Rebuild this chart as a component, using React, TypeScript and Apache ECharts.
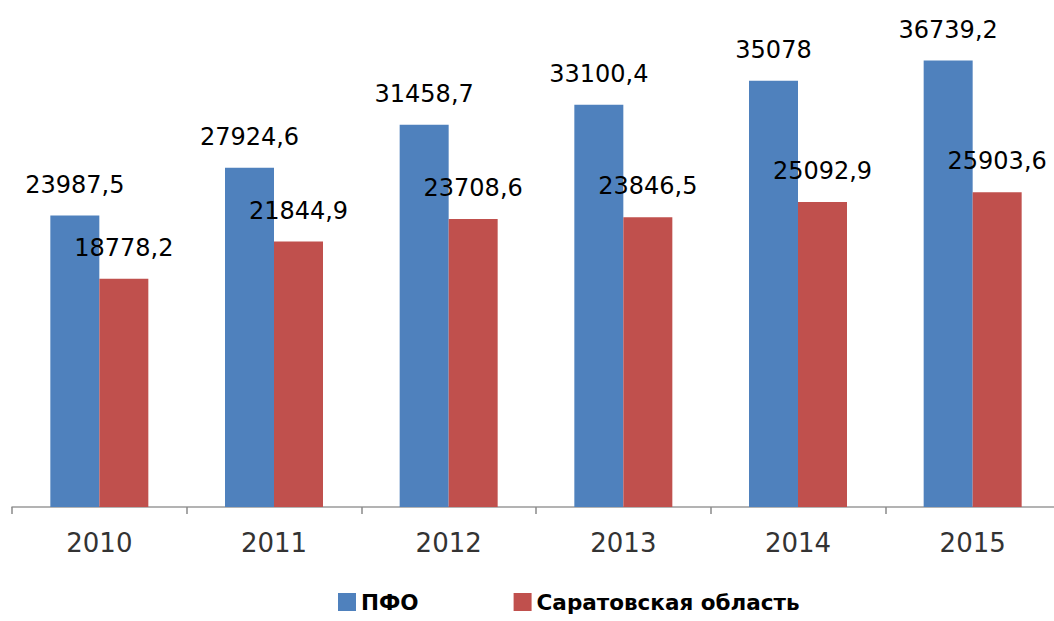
import React, { useEffect, useRef } from "react";
import * as echarts from "echarts";

const years = ["2010", "2011", "2012", "2013", "2014", "2015"];
const pfoValues = [23987.5, 27924.6, 31458.7, 33100.4, 35078, 36739.2];
const saratovValues = [18778.2, 21844.9, 23708.6, 23846.5, 25092.9, 25903.6];
const seriesNames = ["ПФО", "Саратовская область"];

const fmt = (p: any) => String(p.value).replace(".", ",");

export default function App() {
  const ref = useRef<HTMLDivElement>(null);
  useEffect(() => {
    document.body.style.margin = "0";
    const chart = echarts.init(ref.current!, null, { renderer: "svg" });
    const labelStyle = {
      show: true,
      position: "top" as const,
      distance: 19,
      formatter: fmt,
      color: "#000",
      fontFamily: "DejaVu Sans",
      fontSize: 24,
    };
    chart.setOption({
      animation: false,
      backgroundColor: "#ffffff",
      grid: {
        left: 12,
        width: 1048,
        top: 21,
        bottom: 114,
        containLabel: false,
        outerBoundsMode: "none",
      },
      legend: {
        data: seriesNames,
        left: 333,
        top: 586,
        itemWidth: 18,
        itemHeight: 18,
        itemGap: 95,
        icon: "rect",
        textStyle: {
          fontFamily: "DejaVu Sans",
          fontWeight: "bold",
          fontSize: 21.5,
          color: "#000",
        },
      },
      xAxis: {
        type: "category",
        data: years,
        axisLine: { lineStyle: { color: "#9a9a9a", width: 1.5 } },
        axisTick: { show: true, length: 7, lineStyle: { color: "#8a8a8a", width: 1.5 } },
        axisLabel: {
          margin: 23,
          fontFamily: "DejaVu Sans",
          fontSize: 26,
          color: "#333",
        },
      },
      yAxis: {
        type: "value",
        min: 0,
        max: 40000,
        show: false,
        splitLine: { show: false },
      },
      series: [
        {
          name: seriesNames[0],
          type: "bar",
          data: pfoValues,
          barWidth: 49,
          barGap: "0%",
          itemStyle: { color: "#4f81bd" },
          label: labelStyle,
        },
        {
          name: seriesNames[1],
          type: "bar",
          data: saratovValues,
          barWidth: 49,
          itemStyle: { color: "#c0504d" },
          label: labelStyle,
        },
      ],
    });
    return () => chart.dispose();
  }, []);
  return <div ref={ref} style={{ width: 1054, height: 621 }} />;
}
